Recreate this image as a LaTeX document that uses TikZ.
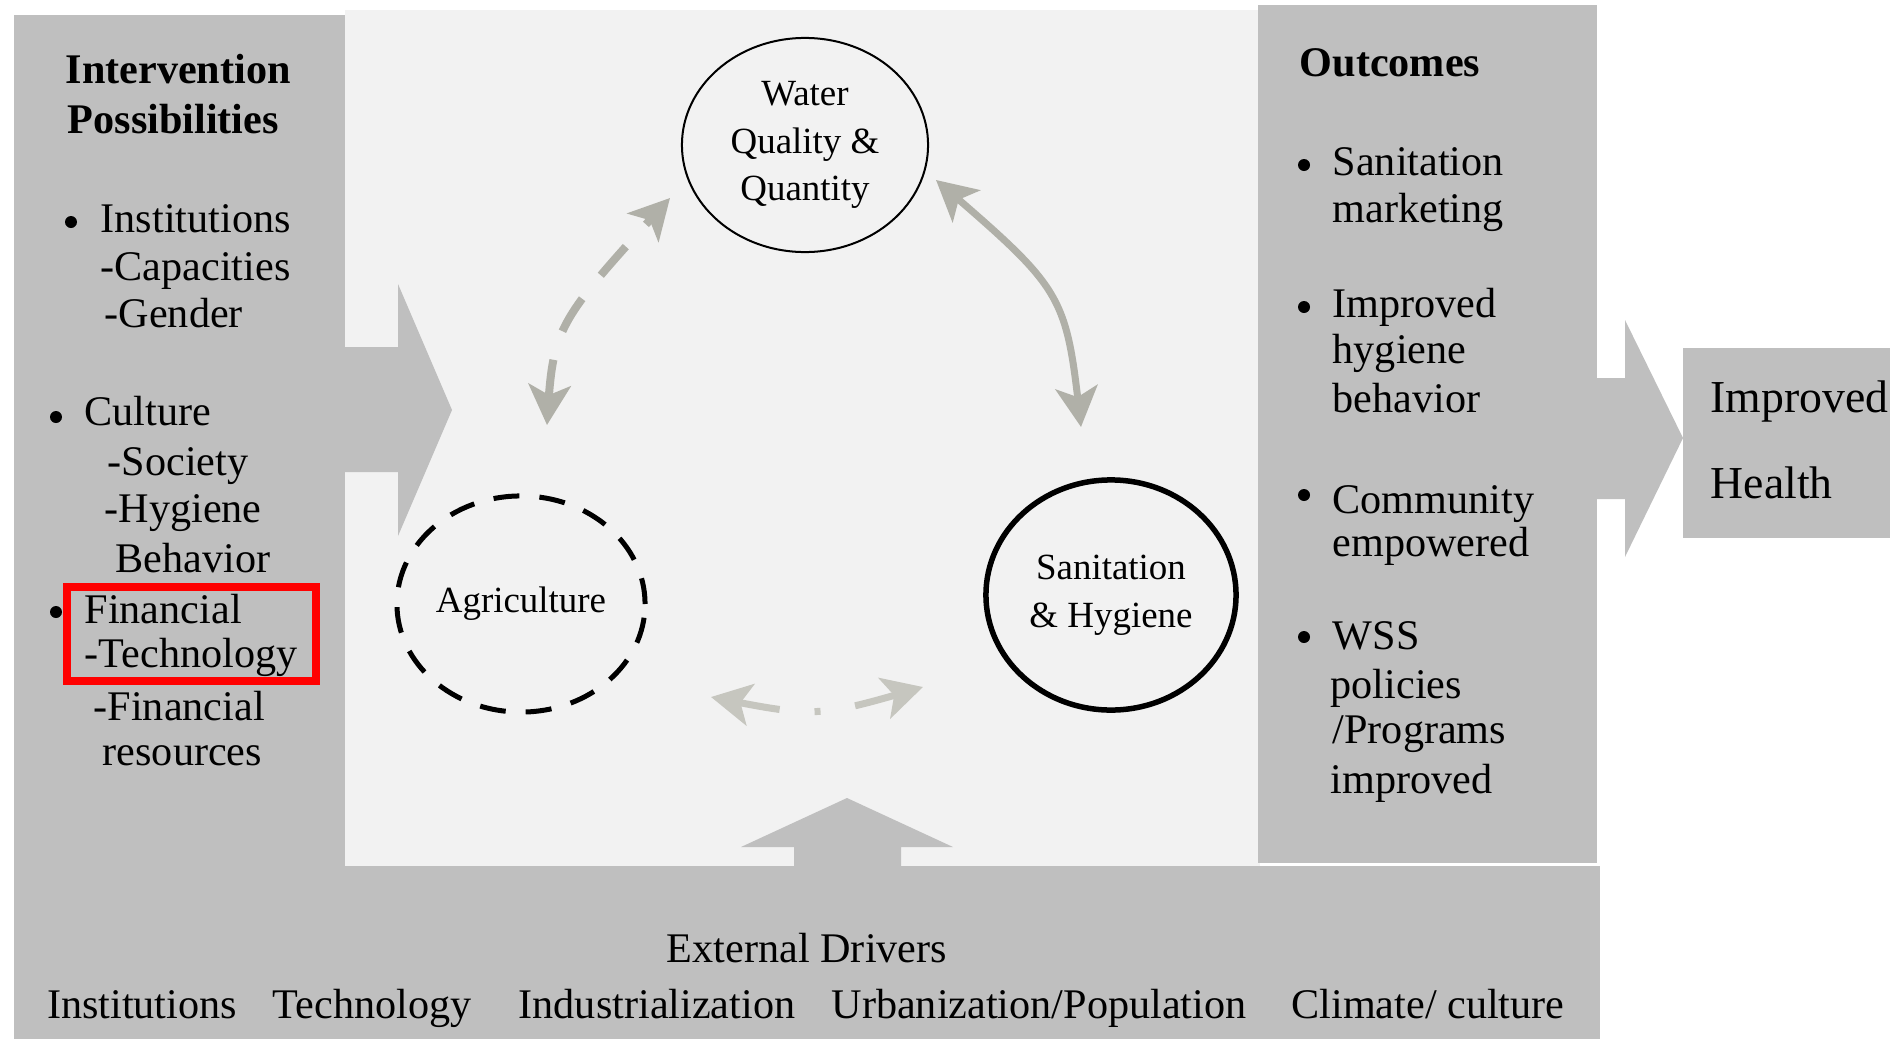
\documentclass[tikz,border=0pt]{standalone}
\usepackage{fontspec}
\setmainfont{Liberation Serif}
\usetikzlibrary{arrows.meta,bending,shapes.geometric}
\definecolor{panelgray}{RGB}{191,191,191}
\definecolor{centergray}{RGB}{242,242,242}
\definecolor{cyclegray}{RGB}{176,176,168}
\definecolor{faintgray}{RGB}{198,198,191}
\newcommand{\drawBullet}[2]{
    \fill (#1,#2) circle (6)
}
\tikzset{
    item/.style={anchor=base west, inner sep=0pt, font=\fontsize{12}{14}\selectfont},
    heading/.style={item, font=\fontsize{12}{14}\selectfont\bfseries},
    driver/.style={anchor=base, inner sep=0pt, font=\fontsize{12}{14}\selectfont},
    bubble/.style={ellipse, inner sep=0pt, align=center, minimum width=2.46cm, font=\fontsize{10.5}{13.6}\selectfont},
    cyclearrow/.style={cyclegray, line width=0.07cm, {Stealth[length=0.4cm,width=0.42cm,inset=0.1cm,flex]}-{Stealth[length=0.4cm,width=0.42cm,inset=0.1cm,flex]}}
}

\begin{document}
\begin{tikzpicture}[x=0.01cm,y=-0.01cm]
            \useasboundingbox (0,0) rectangle (1890,1039);

            % panels
            \fill[centergray] (345,10) rectangle (1260,866);
            \fill[panelgray] (14,15) rectangle (345,866);
            \fill[panelgray] (1258,5) rectangle (1597,863);
            \fill[panelgray] (14,866) rectangle (1600,1039);
            \fill[panelgray] (1683,348) rectangle (1890,538);

            % block arrows
            \fill[panelgray] (340,347) -- (398,347) -- (398,284) -- (452,410) -- (398,536) -- (398,472) -- (340,472) -- cycle;
            \fill[panelgray] (1592,378) -- (1625,378) -- (1625,320) -- (1683,438) -- (1625,557) -- (1625,499) -- (1592,499) -- cycle;
            \fill[panelgray] (794,870) -- (794,847) -- (741,847) -- (847,798) -- (953,847) -- (901,847) -- (901,870) -- cycle;

            % the three bubbles
            \node[bubble, draw, line width=0.02cm, minimum height=2.14cm] (water) at (805,145) {Water\\Quality \&\\Quantity};
            \node[bubble, draw, line width=0.05cm, dash pattern=on 0.26cm off 0.2cm, minimum width=2.48cm, minimum height=2.16cm] (agri) at (521,604) {Agriculture};
            \node[bubble, draw, line width=0.055cm, minimum width=2.5cm, minimum height=2.3cm] (sanit) at (1111,595) {Sanitation\\\& Hygiene};

            % arrows between the bubbles
            \coordinate (agriUp) at (547,425);
            \coordinate (waterLeft) at (670,198);
            \coordinate (waterRight) at (936,180);
            \coordinate (sanitUp) at (1081,427);
            \coordinate (agriRight) at (711,697);
            \coordinate (sanitLeft) at (923,687);
            \draw[cyclearrow, line width=0.08cm, dash pattern=on 0.38cm off 0.3cm] (agriUp) .. controls (553,326) .. (waterLeft);
            \draw[cyclearrow] (waterRight) .. controls (1066,292) .. (sanitUp);
            \draw[cyclearrow, faintgray, dash pattern=on 0.42cm off 0.35cm on 0.06cm off 0.35cm] (agriRight) .. controls (817,718) .. (sanitLeft);

            % intervention possibilities
            \node[heading] (intv) at (65,83) {Intervention};
            \node[heading] (poss) at (67,133) {Possibilities};
            \drawBullet{71}{222};
            \node[item] (inst) at (100,232) {Institutions};
            \node[item] (capac) at (100,280) {-Capacities};
            \node[item] (gender) at (104,327) {-Gender};
            \drawBullet{56}{417};
            \node[item] (cult) at (84,425) {Culture};
            \node[item] (soc) at (107,475) {-Society};
            \node[item] (hyg) at (104,522) {-Hygiene};
            \node[item] (behav) at (115,572) {Behavior};
            \drawBullet{56}{612};
            \node[item] (fin) at (84,623) {Financial};
            \node[item] (tech) at (84,667) {-Technology};
            \node[item] (finres) at (93,720) {-Financial};
            \node[item] (res) at (102,765) {resources};
            \draw[red, line width=0.08cm] (67,587) rectangle (316,681);

            % outcomes
            \node[heading] (outc) at (1299,76) {Outcomes};
            \drawBullet{1304}{165};
            \node[item] (sanmark) at (1332,175) {Sanitation};
            \node[item] (mark) at (1332,222) {marketing};
            \drawBullet{1304}{307};
            \node[item] (impr) at (1332,317) {Improved};
            \node[item] (hygb) at (1332,363) {hygiene};
            \node[item] (behv) at (1332,412) {behavior};
            \drawBullet{1304}{495};
            \node[item] (comm) at (1332,513) {Community};
            \node[item] (empw) at (1332,556) {empowered};
            \drawBullet{1304}{637};
            \node[item] (wss) at (1332,649) {WSS};
            \node[item] (pol) at (1330,698) {policies};
            \node[item] (prog) at (1332,743) {/Programs};
            \node[item] (imprd) at (1330,793) {improved};

            % improved health
            \node[item, font=\fontsize{13}{15}\selectfont] (imphealth) at (1710,412) {Improved};
            \node[item, font=\fontsize{13}{15}\selectfont] (health) at (1710,498) {Health};

            % external drivers
            \node[driver] (ext) at (807,962) {External Drivers};
            \node[driver] (dinst) at (142,1018) {Institutions};
            \node[driver] (dtech) at (372,1018) {Technology};
            \node[driver] (dind) at (657,1018) {Industrialization};
            \node[driver] (durb) at (1039,1018) {Urbanization/Population};
            \node[driver] (dclim) at (1428,1018) {Climate/ culture};

        \end{tikzpicture}
\end{document}
